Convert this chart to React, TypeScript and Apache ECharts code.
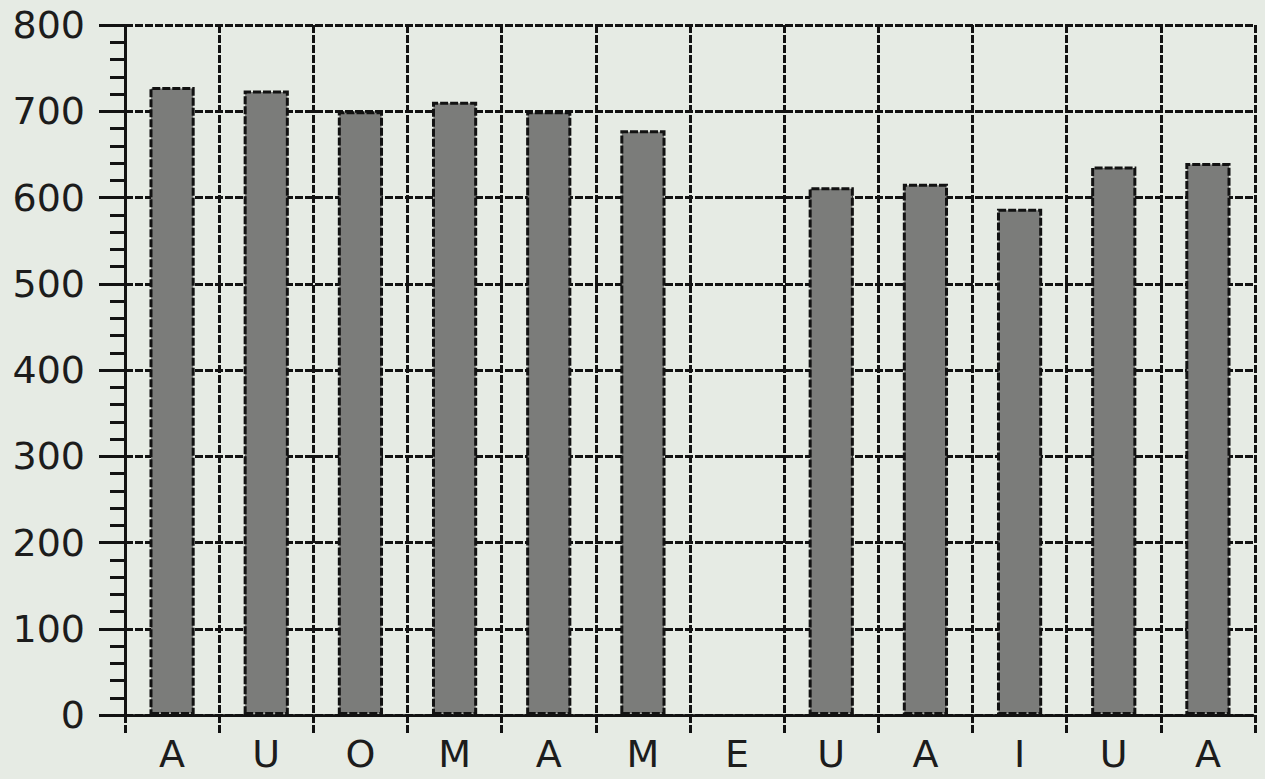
import React, { useEffect, useRef } from "react";
import * as echarts from "echarts";

const categories: string[] = ["A", "U", "O", "M", "A", "M", "E", "U", "A", "I", "U", "A"];
const values: (number | null)[] = [728, 724, 700, 711, 700, 678, null, 612, 616, 587, 636, 640];
const yMin = 0;
const yMax = 800;
const yInterval = 100;

export default function App() {
  const ref = useRef<HTMLDivElement>(null);
  useEffect(() => {
    if (!ref.current) return;
    const chart = echarts.init(ref.current, undefined, { renderer: "svg" });
    const dashed = { color: "#121212", width: 3, type: [8, 2] as number[] };
    chart.setOption({
      animation: false,
      backgroundColor: "#e6ebe4",
      grid: { left: 125, right: 10, top: 25, bottom: 64, containLabel: false },
      xAxis: {
        type: "category",
        data: categories,
        boundaryGap: true,
        axisLine: { show: true, lineStyle: dashed },
        axisTick: { show: true, length: 20, lineStyle: dashed },
        splitLine: { show: true, lineStyle: dashed },
        axisLabel: {
          color: "#1c1c1c",
          fontFamily: "DejaVu Sans",
          fontSize: 38,
          lineHeight: 38,
          margin: 20,
          interval: 0,
        },
      },
      yAxis: {
        type: "value",
        min: yMin,
        max: yMax,
        interval: yInterval,
        axisLine: { show: true, lineStyle: dashed },
        axisTick: { show: true, length: 26, lineStyle: { color: "#121212", width: 3 } },
        minorTick: { show: true, splitNumber: 5, length: 15, lineStyle: { color: "#121212", width: 3 } },
        splitLine: { show: true, lineStyle: dashed },
        axisLabel: {
          color: "#1c1c1c",
          fontFamily: "DejaVu Sans",
          fontSize: 38,
          margin: 40,
        },
      },
      series: [
        {
          type: "bar",
          data: values,
          barWidth: "48%",
          itemStyle: {
            color: "#7b7c7a",
            borderColor: "#121212",
            borderWidth: 3,
            borderType: [8, 2],
          },
        },
      ],
    });
    return () => chart.dispose();
  }, []);
  return (
    <div
      ref={ref}
      style={{ position: "fixed", left: 0, top: 0, width: 1265, height: 779 }}
    />
  );
}
